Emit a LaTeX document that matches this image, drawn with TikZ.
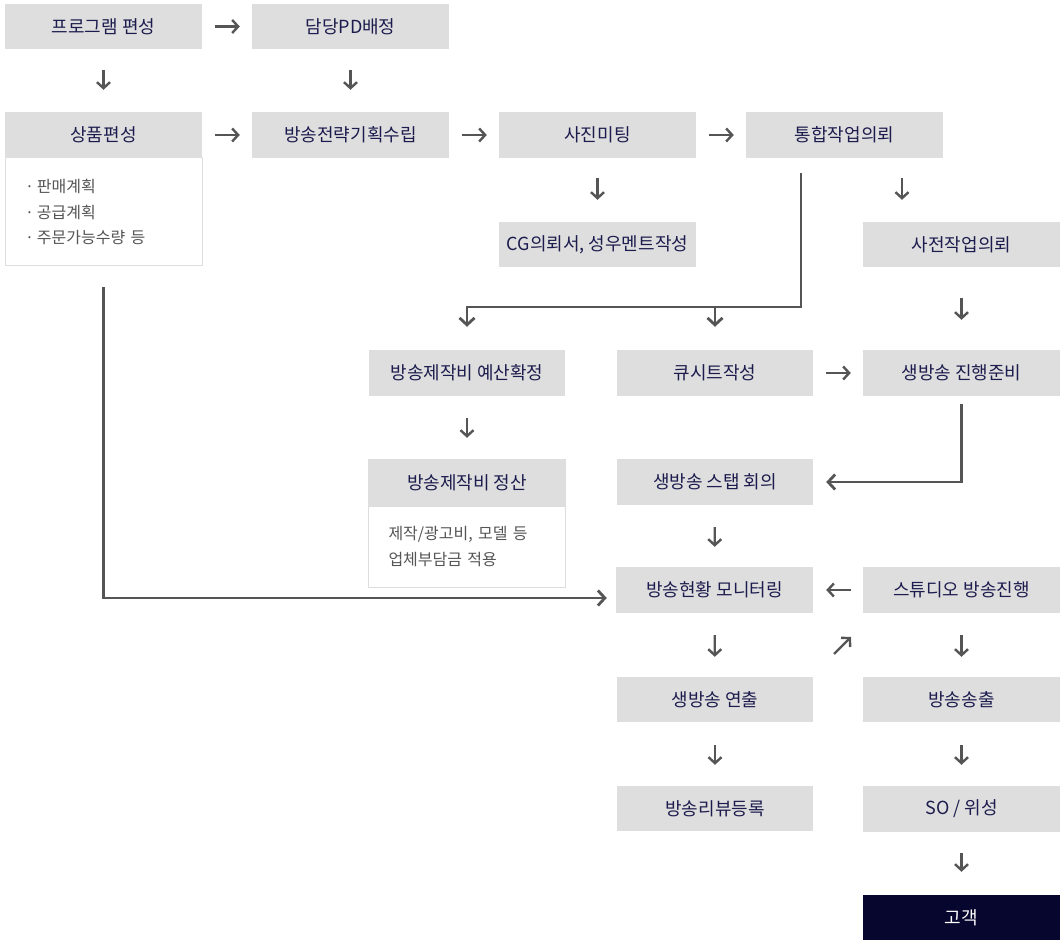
\documentclass[tikz,border=0pt]{standalone}
\usepackage{fontspec}
\setmainfont{Noto Sans CJK KR}
\usetikzlibrary{arrows.meta}
\definecolor{boxgray}{HTML}{DEDEDE}
\definecolor{navytext}{HTML}{1C1C4E}
\definecolor{subtext}{HTML}{555555}
\definecolor{subline}{HTML}{DDDDDD}
\definecolor{arrgray}{HTML}{555555}
\definecolor{darknavy}{HTML}{06062E}
\begin{document}
\begin{tikzpicture}[x=1pt,y=-1pt,
 box/.style={fill=boxgray, draw=none, minimum width=197pt, minimum height=45pt, inner sep=0pt, text=navytext, font=\fontsize{18}{22}\selectfont},
 subbox/.style={draw=subline, line width=1pt, fill=white, minimum width=197pt, inner sep=0pt, text width=157pt, align=left, text=subtext, font=\fontsize{16}{25.5}\selectfont},
 darkbox/.style={box, fill=darknavy, text=white},
 sarr/.style={draw=arrgray, line width=2.4pt, -{Straight Barb[length=6pt,width=13pt]}},
 larr/.style={draw=arrgray, line width=2.8pt, -{Straight Barb[length=7pt,width=15pt]}}]
\useasboundingbox (0,0) rectangle (1063,941);
% sub boxes
\node[subbox, minimum height=108pt] (C2) at (103.5,212) {·\hspace{3pt}판매계획\\ ·\hspace{3pt}공급계획\\ ·\hspace{3pt}주문가능수량 등};
\node[subbox, minimum height=81pt] (L2) at (467,546.5) {제작/광고비, 모델 등\\ 업체부담금 적용};
% boxes
\node[box] (A) at (103.5,26.5) {프로그램 편성};
\node[box] (B) at (350.5,26.5) {담당PD배정};
\node[box, minimum height=46pt] (C) at (103.5,135) {상품편성};
\node[box, minimum height=46pt] (D) at (350.5,135) {방송전략기획수립};
\node[box, minimum height=46pt] (E) at (597.5,135) {사진미팅};
\node[box, minimum height=46pt] (F) at (844.5,135) {통합작업의뢰};
\node[box] (G) at (597.5,244.5) {CG의뢰서, 성우멘트작성};
\node[box] (H) at (961.5,244.5) {사전작업의뢰};
\node[box, minimum height=46pt, minimum width=196pt] (I) at (467,373) {방송제작비 예산확정};
\node[box, minimum height=46pt, minimum width=196pt] (J) at (715,373) {큐시트작성};
\node[box, minimum height=46pt] (K) at (961.5,373) {생방송 진행준비};
\node[box, minimum height=47pt, minimum width=198pt] (L) at (467,482.5) {방송제작비 정산};
\node[box, minimum height=46pt, minimum width=196pt] (M) at (715,482) {생방송 스탭 회의};
\node[box, minimum height=46pt] (N) at (714.5,590) {방송현황 모니터링};
\node[box, minimum height=46pt] (O) at (961.5,590) {스튜디오 방송진행};
\node[box, minimum width=196pt] (P) at (715,699.5) {생방송 연출};
\node[box] (Q) at (961.5,699.5) {방송송출};
\node[box, minimum width=196pt] (R) at (715,808.5) {방송리뷰등록};
\node[box, minimum height=46pt] (S) at (961.5,809) {SO / 위성};
\node[darkbox] (T) at (961.5,917.5) {고객};
% short arrows
\draw[sarr, shorten <=13pt, shorten >=12pt] (A) -- (B);
\draw[sarr, shorten <=21pt, shorten >=22pt] (A) -- (C);
\draw[sarr, shorten <=21pt, shorten >=22pt] (B) -- (D);
\draw[sarr, shorten <=13pt, shorten >=12pt] (C) -- (D);
\draw[sarr, shorten <=13pt, shorten >=12pt] (D) -- (E);
\draw[sarr, shorten <=13pt, shorten >=12pt] (E) -- (F);
\draw[sarr, shorten <=20pt, shorten >=22pt] (E) -- (G);
\coordinate (fh) at (902,0);
\draw[sarr, shorten <=20pt, shorten >=22pt] (F.south -| fh) -- (H.north -| fh);
\draw[sarr, shorten <=31pt, shorten >=30pt] (H) -- (K);
\draw[sarr, shorten <=13pt, shorten >=12pt] (J) -- (K);
\draw[sarr, shorten <=22pt, shorten >=21pt] (I) -- (L);
\draw[sarr, shorten <=22pt, shorten >=20pt] (M) -- (N);
\draw[sarr, shorten <=12pt, shorten >=13pt] (O) -- (N);
\draw[sarr, shorten <=22pt, shorten >=20pt] (N) -- (P);
\draw[sarr, shorten <=22pt, shorten >=20pt] (O) -- (Q);
\draw[sarr, shorten <=23pt, shorten >=21pt] (P) -- (R);
\draw[sarr, shorten <=23pt, shorten >=21pt] (Q) -- (S);
\draw[sarr, shorten <=21pt, shorten >=23pt] (S) -- (T);
\coordinate (u1) at (834,654);
\coordinate (u2) at (851,637);
\draw[sarr] (u1) -- (u2);
% long connectors
\coordinate (f1) at (801,173);
\coordinate (hy) at (0,307);
\draw[larr, shorten >=23pt] (f1) -- (f1 |- hy) -| (I.north);
\draw[larr, shorten >=23pt] (J.north |- hy) -- (J.north);
\draw[larr, shorten >=13pt] ([yshift=-8pt]K.south) |- (M.east);
\draw[larr, shorten >=9pt] ([yshift=-21pt]C2.south) |- ([yshift=-8pt]N.west);
\end{tikzpicture}
\end{document}
